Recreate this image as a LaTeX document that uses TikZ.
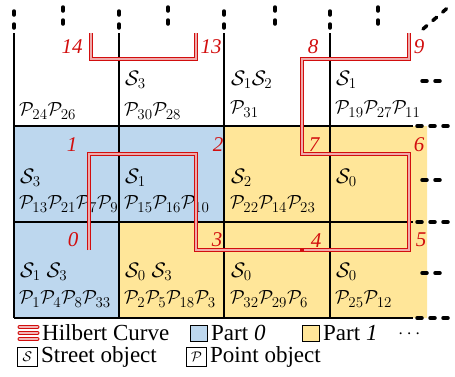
\RequirePackage{fix-cm}
\documentclass[tikz,border=0pt]{standalone}
\usepackage{amsmath}
\usepackage{fontspec}
\setmainfont{Liberation Serif}
\usepackage{xcolor}
\usepackage{tikz}
\usetikzlibrary{positioning}

\definecolor{hilred}{RGB}{210,14,14}
\definecolor{part0}{RGB}{189,215,238}
\definecolor{part1}{RGB}{255,230,153}
\DeclareMathSizes{19}{19}{15}{11}
\DeclareMathSizes{21}{21}{15}{11}

\begin{document}
\begin{tikzpicture}[x=1pt, y=-1pt,
  gridline/.style={line width=1.5pt},
  vdots/.style={line width=3.5pt, line cap=round, dash pattern=on 4pt off 9pt},
  hdots/.style={line width=3.5pt, line cap=round, dash pattern=on 5pt off 8pt},
  hil/.style={draw=hilred, double=hilred!35, double distance=1.4pt, line width=1pt},
  hilicon/.style={draw=hilred, double=hilred!30, double distance=2pt, line width=1pt, line cap=round},
  num/.style={text=hilred, inner sep=0pt, font=\fontsize{21}{21}\selectfont\itshape},
  snode/.style={anchor=west, inner sep=0pt, font=\fontsize{21}{21}\selectfont},
  pnode/.style={anchor=west, inner sep=0pt, font=\fontsize{19}{19}\selectfont},
  legtext/.style={anchor=west, inner sep=0pt, font=\fontsize{23}{23}\selectfont},
  legbox/.style={draw, line width=1pt, minimum width=17pt, minimum height=16pt, inner sep=0pt}]
  \useasboundingbox (0,0) rectangle (455,376);

  % partitions
  \fill[part0] (14,126) rectangle (224,222) (14,222) rectangle (119,318);
  \fill[part1] (224,126) rectangle (427,222) (119,222) rectangle (427,318);

  % grid
  \foreach \x in {14,119,224,330} \draw[gridline] (\x,33) -- (\x,318);
  \foreach \y in {126,222,318} \draw[gridline] (14,\y) -- (413,\y);

  % continuation marks
  \foreach \x in {14,119,224,330} \draw[vdots] (\x,28) -- (\x,10);
  \foreach \x in {63,168,275,378} \draw[vdots] (\x,24) -- (\x,6);
  \foreach \y in {126,222,318} \draw[hdots] (417,\y) -- (453,\y);
  \foreach \y in {81,180,273} \draw[hdots] (422,\y) -- (444,\y);
  \draw[hdots] (423,29) -- (452,4);

  % cell contents
  \node[pnode] (p11) at (19,111) {$\mathcal{P}_{24}\mathcal{P}_{26}$};
  \node[snode] (s12) at (125,80) {$\mathcal{S}_3$};
  \node[pnode] (p12) at (124,111) {$\mathcal{P}_{30}\mathcal{P}_{28}$};
  \node[snode] (s13) at (231,80) {$\mathcal{S}_1\mathcal{S}_2$};
  \node[pnode] (p13) at (230,109) {$\mathcal{P}_{31}$};
  \node[snode] (s14) at (336,80) {$\mathcal{S}_1$};
  \node[pnode] (p14) at (335,109) {$\mathcal{P}_{19}\mathcal{P}_{27}\mathcal{P}_{11}$};

  \node[snode] (s21) at (20,178) {$\mathcal{S}_3$};
  \node[pnode] (p21) at (19,204) {$\mathcal{P}_{13}\mathcal{P}_{21}\mathcal{P}_{7}\mathcal{P}_{9}$};
  \node[snode] (s22) at (125,178) {$\mathcal{S}_1$};
  \node[pnode] (p22) at (124,204) {$\mathcal{P}_{15}\mathcal{P}_{16}\mathcal{P}_{10}$};
  \node[snode] (s23) at (231,178) {$\mathcal{S}_2$};
  \node[pnode] (p23) at (230,204) {$\mathcal{P}_{22}\mathcal{P}_{14}\mathcal{P}_{23}$};
  \node[snode] (s24) at (336,178) {$\mathcal{S}_0$};

  \node[snode] (s31) at (20,272) {$\mathcal{S}_1\;\mathcal{S}_3$};
  \node[pnode] (p31) at (19,299) {$\mathcal{P}_{1}\mathcal{P}_{4}\mathcal{P}_{8}\mathcal{P}_{33}$};
  \node[snode] (s32) at (125,272) {$\mathcal{S}_0\;\mathcal{S}_3$};
  \node[pnode] (p32) at (124,299) {$\mathcal{P}_{2}\mathcal{P}_{5}\mathcal{P}_{18}\mathcal{P}_{3}$};
  \node[snode] (s33) at (231,272) {$\mathcal{S}_0$};
  \node[pnode] (p33) at (230,299) {$\mathcal{P}_{32}\mathcal{P}_{29}\mathcal{P}_{6}$};
  \node[snode] (s34) at (336,272) {$\mathcal{S}_0$};
  \node[pnode] (p34) at (335,299) {$\mathcal{P}_{25}\mathcal{P}_{12}$};

  % hilbert curve
  \coordinate (h0) at (89,250);
  \coordinate (h1) at (89,154);
  \coordinate (h2) at (196,154);
  \coordinate (h3) at (196,250);
  \coordinate (h4) at (302,250);
  \coordinate (h5) at (409,250);
  \coordinate (h6) at (409,154);
  \coordinate (h7) at (302,154);
  \coordinate (h8) at (302,59);
  \coordinate (h9) at (409,59);
  \coordinate (up9) at (409,33);
  \coordinate (h13) at (196,59);
  \coordinate (up13) at (196,33);
  \coordinate (h14) at (91,59);
  \coordinate (up14) at (91,33);
  \draw[hil] (h0) -- (h1) -- (h2) -- (h3) -- (h4) -- (h5) -- (h6) -- (h7) -- (h8) -- (h9) -- (up9);
  \draw[hil] (up13) -- (h13) -- (h14) -- (up14);
  \node[fill=hilred, minimum size=4.5pt, inner sep=0pt] (m4) at (h4) {};

  \node[num] (n0) at (73,240) {0};
  \node[num] (n1) at (72,145) {1};
  \node[num] (n2) at (218,145) {2};
  \node[num] (n3) at (217,240) {3};
  \node[num] (n4) at (316,241) {4};
  \node[num] (n5) at (421,240) {5};
  \node[num] (n6) at (419,145) {6};
  \node[num] (n7) at (314,145) {7};
  \node[num] (n8) at (313,47) {8};
  \node[num] (n9) at (419,47) {9};
  \node[num] (n13) at (211,47) {13};
  \node[num] (n14) at (72,47) {14};

  % legend
  \foreach \y in {327,333,339} \draw[hilicon] (19.5,\y) -- (37.5,\y);
  \node[legtext] (lhil) at (42,333) {Hilbert Curve};
  \node[legbox, fill=part0] (lp0) at (199,333) {};
  \node[legtext, right=3pt of lp0] (tp0) {Part \textit{0}};
  \node[legbox, fill=part1] (lp1) at (311,333) {};
  \node[legtext, right=3pt of lp1] (tp1) {Part \textit{1}};
  \node[legtext, font=\fontsize{19}{19}\selectfont] (ldots) at (398,334) {$\cdots$};
  \node[legbox, minimum width=20pt, minimum height=19pt, font=\fontsize{14}{14}\selectfont] (ls) at (27.5,357) {$\mathcal{S}$};
  \node[legtext, right=3pt of ls] (ts) {Street object};
  \node[legbox, minimum width=20pt, minimum height=19pt, font=\fontsize{14}{14}\selectfont] (lp) at (196.5,357) {$\mathcal{P}$};
  \node[legtext, right=3pt of lp] (tp) {Point object};
\end{tikzpicture}
\end{document}
